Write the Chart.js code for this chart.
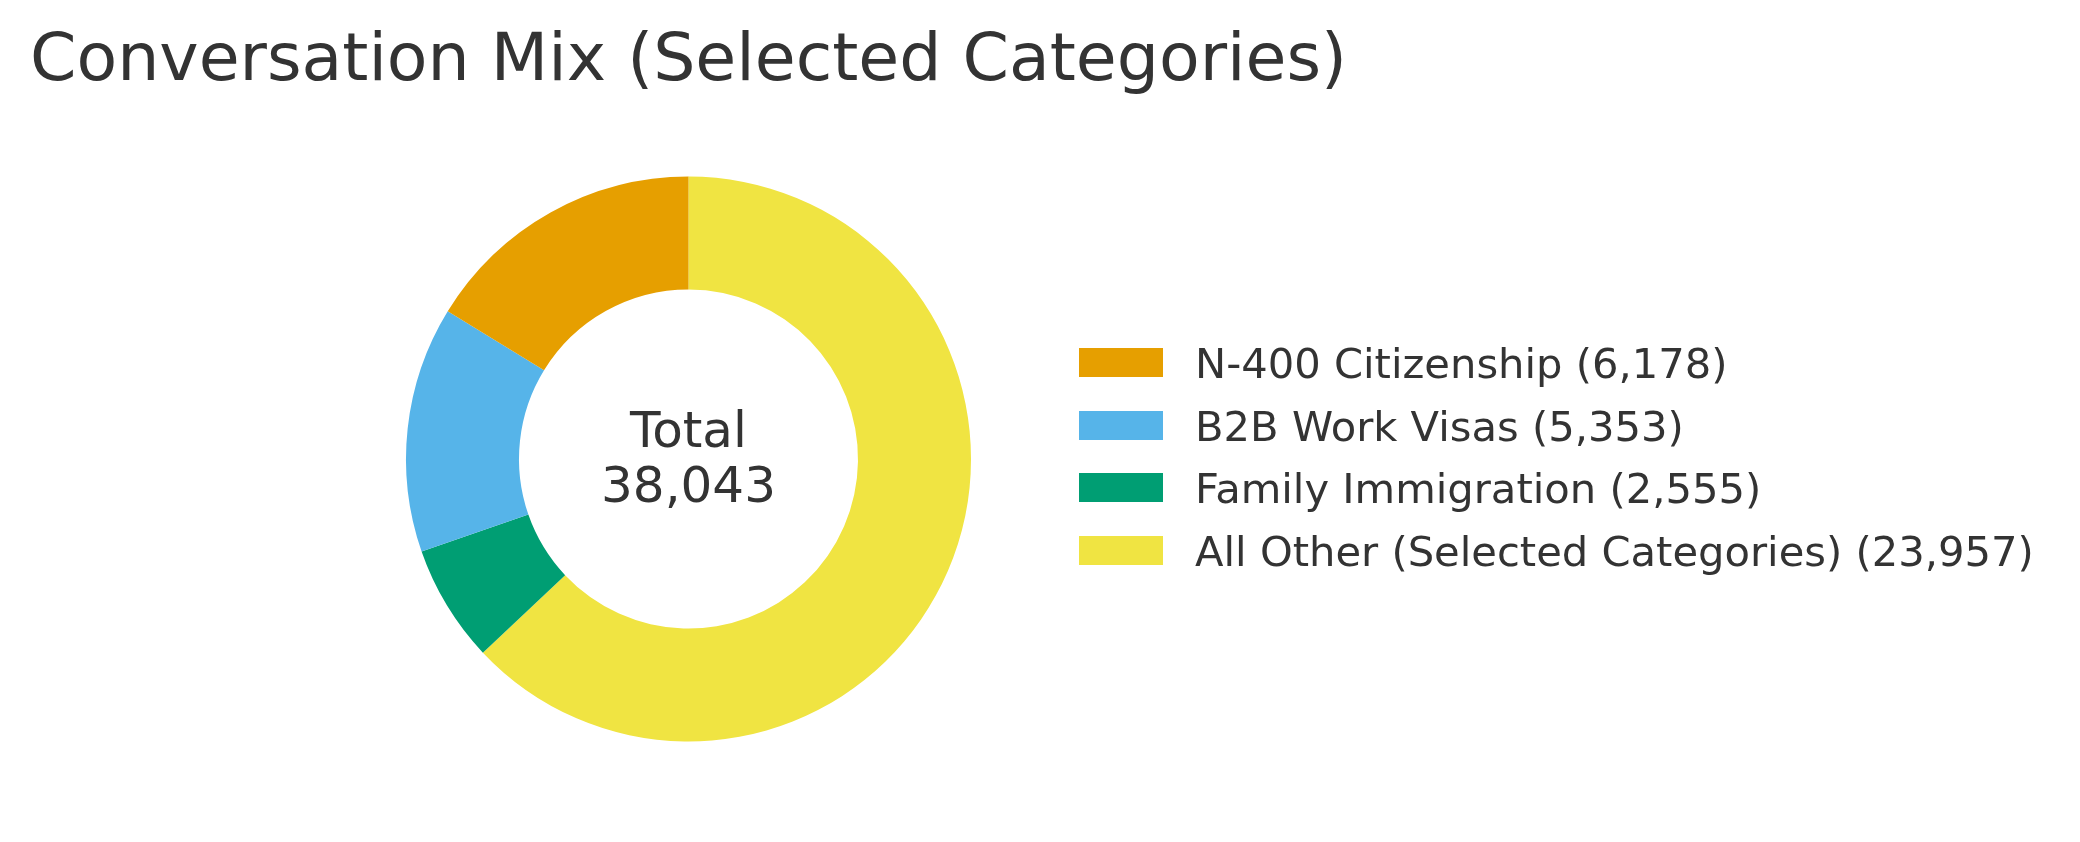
<!DOCTYPE html>
<html>
<head>
<meta charset="utf-8">
<script src="https://cdn.jsdelivr.net/npm/chart.js@4/dist/chart.umd.min.js"></script>
<style>
  html, body { margin: 0; padding: 0; background: #ffffff; }
  #wrap { position: relative; width: 2080px; height: 842px; overflow: hidden; background: #ffffff; }
  #c { position: absolute; left: 0; top: 0; }
  #legend { position: absolute; left: 0; top: 0; width: 2080px; height: 842px; pointer-events: none;
            font-family: 'DejaVu Sans', sans-serif; color: #333333; }
  .row { position: absolute; height: 41.67px; line-height: 41.67px; font-size: 41.67px; white-space: nowrap; }
  .sw { position: absolute; left: 0; width: 84px; height: 29px; }
  .lbl { position: absolute; left: 116px; top: 0; }
</style>
</head>
<body>
<div id="wrap">
  <canvas id="c" width="2080" height="842"></canvas>
  <div id="legend"></div>
</div>
<script>
// ---- data ----
const categories = ['N-400 Citizenship', 'B2B Work Visas', 'Family Immigration', 'All Other (Selected Categories)'];
const values = [6178, 5353, 2555, 23957];
const colors = ['#E69F00', '#56B4E9', '#009E73', '#F0E442'];
const titleText = 'Conversation Mix (Selected Categories)';
const centerLabel = 'Total';

const fmt = v => v.toLocaleString('en-US');
const total = values.reduce((a, b) => a + b, 0);

// matplotlib draws counter-clockwise from 12 o'clock; Chart.js goes clockwise,
// so feed the slices in reverse order.
const revLabels = categories.slice().reverse();
const revValues = values.slice().reverse();
const revColors = colors.slice().reverse();

const centerText = {
  id: 'centerText',
  afterDatasetsDraw(chart) {
    const arc = chart.getDatasetMeta(0).data[0];
    if (!arc) return;
    const ctx = chart.ctx;
    ctx.save();
    ctx.font = '50px "DejaVu Sans", sans-serif';
    ctx.fillStyle = '#333333';
    ctx.textAlign = 'center';
    ctx.textBaseline = 'alphabetic';
    ctx.fillText(centerLabel, arc.x, arc.y - 11.6);
    ctx.fillText(fmt(total), arc.x, arc.y + 42.9);
    ctx.restore();
  }
};

const chart = new Chart(document.getElementById('c'), {
  type: 'doughnut',
  data: {
    labels: revLabels,
    datasets: [{
      data: revValues,
      backgroundColor: revColors,
      borderWidth: 0,
      hoverOffset: 0
    }]
  },
  options: {
    responsive: false,
    devicePixelRatio: 1,
    animation: false,
    radius: 282.5,
    cutout: '60%',
    rotation: 0,
    layout: { padding: { left: 30, right: 733, top: 0, bottom: 37 } },
    plugins: {
      legend: { display: false },
      tooltip: { enabled: false },
      title: {
        display: true,
        text: titleText,
        align: 'start',
        color: '#333333',
        font: { family: 'DejaVu Sans', size: 66.67, weight: 'normal', lineHeight: 1.2 },
        padding: { top: 23, bottom: 10 }
      }
    }
  },
  plugins: [centerText]
});

// ---- legend (original order) ----
const legend = document.getElementById('legend');
const rowCenters = [362.5, 425.5, 487.8, 550.3];
categories.forEach((name, i) => {
  const row = document.createElement('div');
  row.className = 'row';
  row.style.left = '1079px';
  row.style.top = (rowCenters[i] - 19.8) + 'px';
  const sw = document.createElement('div');
  sw.className = 'sw';
  sw.style.top = (19.8 - 14.5) + 'px';
  sw.style.background = colors[i];
  const lbl = document.createElement('span');
  lbl.className = 'lbl';
  lbl.textContent = name + ' (' + fmt(values[i]) + ')';
  row.appendChild(sw);
  row.appendChild(lbl);
  legend.appendChild(row);
});
</script>
</body>
</html>
